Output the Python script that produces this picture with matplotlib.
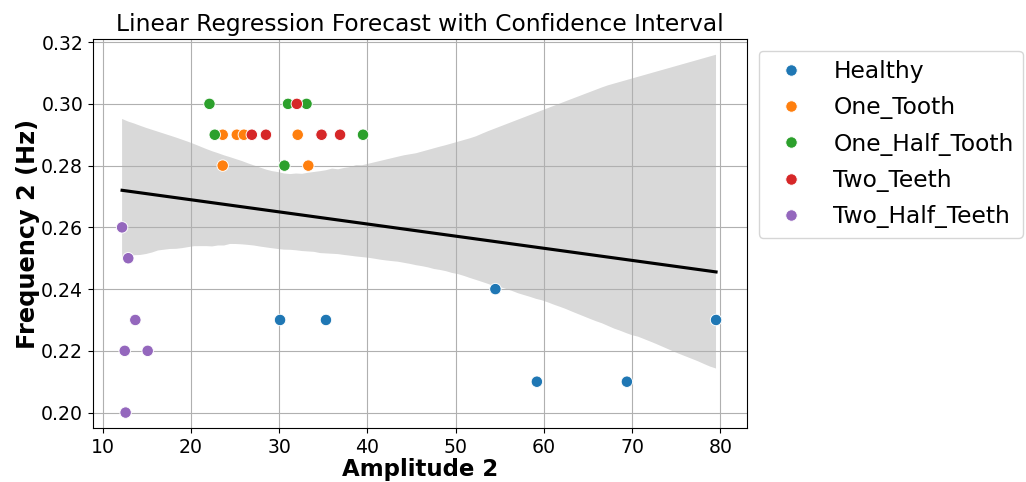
import numpy as np
import pandas as pd
import seaborn as sns
from matplotlib import pyplot as plt

# data
classes = ['Healthy', 'One_Tooth', 'One_Half_Tooth', 'Two_Teeth', 'Two_Half_Teeth']
healthy_x = [30.1, 35.3, 54.5, 59.2, 69.4, 79.5]
healthy_y = [0.23, 0.23, 0.24, 0.21, 0.21, 0.23]
one_tooth_x = [23.6, 25.2, 26.0, 32.1, 23.6, 33.3]
one_tooth_y = [0.29, 0.29, 0.29, 0.29, 0.28, 0.28]
one_half_x = [22.1, 31.0, 33.1, 22.7, 39.5, 30.6]
one_half_y = [0.30, 0.30, 0.30, 0.29, 0.29, 0.28]
two_teeth_x = [32.0, 26.9, 28.5, 34.8, 36.9]
two_teeth_y = [0.30, 0.29, 0.29, 0.29, 0.29]
two_half_x = [12.2, 12.9, 13.7, 12.5, 15.1, 12.6]
two_half_y = [0.26, 0.25, 0.23, 0.22, 0.22, 0.20]

xs = [healthy_x, one_tooth_x, one_half_x, two_teeth_x, two_half_x]
ys = [healthy_y, one_tooth_y, one_half_y, two_teeth_y, two_half_y]
df = pd.DataFrame({
    'Amplitude 2': sum(xs, []),
    'Frequency 2 (Hz)': sum(ys, []),
    'Class': sum([[c] * len(x) for c, x in zip(classes, xs)], []),
})

fig = plt.figure(figsize=(10.26, 4.82), dpi=100)
ax = fig.add_axes([0.0906, 0.112, 0.6374, 0.807])

sns.scatterplot(data=df, x='Amplitude 2', y='Frequency 2 (Hz)', hue='Class',
                s=68, ax=ax, zorder=2)
# regression line + bootstrap CI band (drawn on top of the points)
sns.regplot(data=df, x='Amplitude 2', y='Frequency 2 (Hz)', scatter=False,
            color='black', ax=ax, seed=0)

ax.set_title('Linear Regression Forecast with Confidence Interval', fontsize=16.8)
ax.set_xlabel('Amplitude 2', fontsize=16.5, fontweight='bold', labelpad=1)
ax.set_ylabel('Frequency 2 (Hz)', fontsize=17.3, fontweight='bold', labelpad=1)
ax.tick_params(labelsize=13.6)
ax.set_xlim(8.9, 83)
ax.set_ylim(0.195, 0.321)
ax.set_yticks([0.20, 0.22, 0.24, 0.26, 0.28, 0.30, 0.32])
ax.grid(True)
ax.legend(loc='upper left', bbox_to_anchor=(1.0, 1.0), fontsize=16.8,
          labelspacing=0.57)

plt.savefig('out.png')
